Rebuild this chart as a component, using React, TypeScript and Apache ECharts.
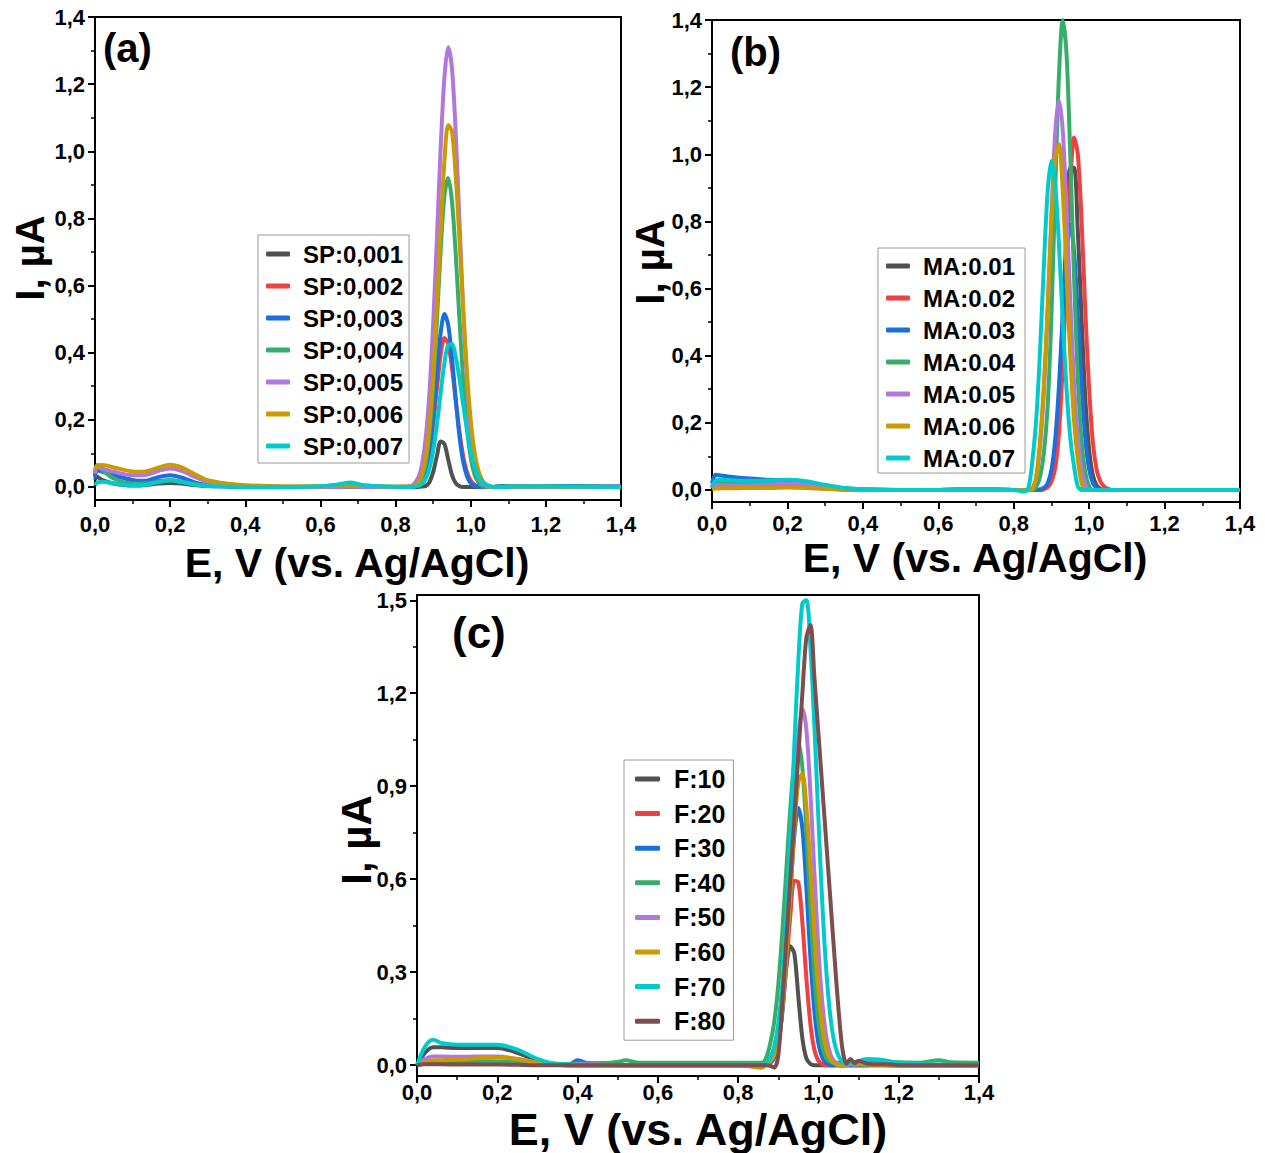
import React, { useEffect, useRef } from "react";
import * as echarts from "echarts";

// ---------- colours (Origin default palette) ----------
const COLORS = ["#515151", "#F14040", "#1A6FDF", "#37AD6B", "#B177DE", "#CC9900", "#00CBCC", "#7D4E4E"];

// ---------- tick labels ----------
const yMajorAB = [0, 0.2, 0.4, 0.6, 0.8, 1.0, 1.2, 1.4];
const yMinorAB = [0.1, 0.3, 0.5, 0.7, 0.9, 1.1, 1.3];
const yMajorC = [0, 0.3, 0.6, 0.9, 1.2, 1.5];
const yMinorC = [0.15, 0.45, 0.75, 1.05, 1.35];

// ---------- panel (a) ----------
const namesA = ["SP:0,001", "SP:0,002", "SP:0,003", "SP:0,004", "SP:0,005", "SP:0,006", "SP:0,007"];
const xA = [0, 0.005, 0.02, 0.05, 0.1, 0.13, 0.17, 0.2, 0.23, 0.27, 0.3, 0.35, 0.4, 0.5, 0.6, 0.65, 0.68, 0.71, 0.78, 0.84,
  0.86, 0.87, 0.88, 0.89, 0.9, 0.91, 0.92, 0.93, 0.94, 0.95, 0.96, 0.97, 0.98, 0.99, 1.0, 1.01, 1.02, 1.03, 1.04, 1.05, 1.06,
  1.08, 1.15, 1.25, 1.4];
const a_sp001 = [0.02, 0.03, 0.02, 0.01, 0.004, 0.005, 0.01, 0.012, 0.01, 0.005, 0.003, 0.002, 0.001, 0, 0, 0, 0.002, 0.001, 0, 0,
  0, 0.001, 0.003, 0.014, 0.044, 0.092, 0.135, 0.128, 0.082, 0.036, 0.011, 0.002, 0, 0, 0, 0, 0, 0, 0, 0, 0,
  0, 0.001, 0, 0];
const a_sp002 = [0.03, 0.06, 0.05, 0.035, 0.02, 0.015, 0.018, 0.02, 0.015, 0.008, 0.004, 0.002, 0, 0, 0, 0, 0.001, 0, 0, 0,
  0.005, 0.016, 0.042, 0.096, 0.183, 0.292, 0.393, 0.444, 0.426, 0.356, 0.258, 0.165, 0.091, 0.044, 0.019, 0.007, 0.002, 0, 0, 0, 0,
  0.002, 0.003, 0.002, 0.001];
const a_sp003 = [0.03, 0.05, 0.045, 0.035, 0.02, 0.018, 0.03, 0.035, 0.028, 0.012, 0.006, 0.002, 0, 0, 0, 0, 0.001, 0, 0, 0,
  0.004, 0.015, 0.044, 0.105, 0.208, 0.339, 0.459, 0.515, 0.483, 0.386, 0.263, 0.152, 0.075, 0.032, 0.011, 0.003, 0, 0, 0, 0, 0,
  0.003, 0.002, 0.003, 0.001];
const a_sp004 = [0.04, 0.065, 0.05, 0.025, 0.01, 0.01, 0.015, 0.02, 0.015, 0.008, 0.004, 0.002, 0, 0, 0, 0, 0.001, 0, 0, 0,
  0.009, 0.027, 0.07, 0.157, 0.299, 0.494, 0.705, 0.867, 0.92, 0.852, 0.695, 0.499, 0.317, 0.175, 0.086, 0.037, 0.014, 0.004, 0, 0, 0,
  0.001, 0.002, 0.001, 0];
const a_sp005 = [0.04, 0.06, 0.055, 0.045, 0.035, 0.035, 0.048, 0.055, 0.048, 0.028, 0.015, 0.006, 0.002, 0, 0, 0, 0.001, 0, 0, 0.003,
  0.027, 0.065, 0.144, 0.279, 0.485, 0.74, 1.009, 1.22, 1.31, 1.248, 1.057, 0.795, 0.53, 0.315, 0.166, 0.077, 0.032, 0.012, 0.004, 0, 0,
  0, 0.001, 0, 0];
const a_sp006 = [0.05, 0.062, 0.065, 0.058, 0.046, 0.045, 0.058, 0.066, 0.058, 0.035, 0.02, 0.01, 0.005, 0.002, 0.002, 0.004, 0.006, 0.004, 0.001, 0.001,
  0.013, 0.036, 0.086, 0.181, 0.33, 0.538, 0.771, 0.97, 1.078, 1.06, 0.929, 0.739, 0.53, 0.341, 0.199, 0.105, 0.05, 0.021, 0.008, 0.002, 0,
  0, 0.001, 0, 0];
const a_sp007 = [0.005, 0.012, 0.015, 0.01, 0.005, 0.006, 0.015, 0.02, 0.015, 0.006, 0.003, 0.001, 0, 0, 0.002, 0.008, 0.013, 0.006, 0.001, 0,
  0.003, 0.009, 0.024, 0.054, 0.107, 0.185, 0.28, 0.369, 0.423, 0.425, 0.388, 0.323, 0.245, 0.17, 0.107, 0.062, 0.033, 0.016, 0.007, 0.003, 0,
  0, 0.002, 0.001, 0];

// ---------- panel (b) ----------
const namesB = ["MA:0.01", "MA:0.02", "MA:0.03", "MA:0.04", "MA:0.05", "MA:0.06", "MA:0.07"];
const xB = [0, 0.01, 0.03, 0.06, 0.1, 0.15, 0.2, 0.25, 0.3, 0.35, 0.4, 0.5, 0.6, 0.7, 0.8,
  0.83, 0.84, 0.85, 0.86, 0.87, 0.88, 0.89, 0.9, 0.91, 0.92, 0.93, 0.94, 0.95, 0.96, 0.97, 0.98, 0.99, 1.0, 1.01, 1.02, 1.03, 1.04, 1.05, 1.06, 1.07,
  1.1, 1.2, 1.3, 1.4];
const b_ma001 = [0.003, 0.01, 0.01, 0.009, 0.009, 0.01, 0.01, 0.008, 0.004, 0.001, 0, 0, 0, 0.001, 0,
  0, 0, 0, 0, 0, 0.003, 0.013, 0.043, 0.12, 0.27, 0.51, 0.77, 0.96, 0.96, 0.77, 0.51, 0.27, 0.12, 0.043, 0.013, 0.003, 0, 0, 0, 0,
  0, 0, 0, 0];
const b_ma002 = [0.005, 0.02, 0.018, 0.015, 0.013, 0.012, 0.012, 0.009, 0.005, 0.002, 0, 0, 0, 0.001, 0,
  0, 0, 0, 0, 0, 0.003, 0.008, 0.025, 0.065, 0.17, 0.37, 0.64, 0.91, 1.05, 1.0, 0.8, 0.53, 0.3, 0.14, 0.06, 0.025, 0.01, 0.003, 0, 0,
  0, 0, 0, 0];
const b_ma003 = [0.02, 0.045, 0.042, 0.038, 0.034, 0.03, 0.028, 0.022, 0.012, 0.005, 0.002, 0, 0, 0.002, 0,
  0, 0, 0, 0, 0.002, 0.006, 0.02, 0.06, 0.15, 0.31, 0.52, 0.71, 0.79, 0.71, 0.52, 0.31, 0.15, 0.06, 0.02, 0.006, 0, 0, 0, 0, 0,
  0, 0, 0, 0];
const b_ma004 = [0.01, 0.025, 0.022, 0.02, 0.018, 0.018, 0.017, 0.012, 0.006, 0.002, 0, 0, 0, 0.001, 0,
  0, 0, 0, 0.01, 0.04, 0.11, 0.25, 0.52, 0.89, 1.235, 1.4, 1.3, 0.995, 0.633, 0.33, 0.145, 0.05, 0.01, 0, 0, 0, 0, 0, 0, 0,
  0, 0, 0, 0];
const b_ma005 = [0.005, 0.015, 0.014, 0.013, 0.014, 0.016, 0.018, 0.015, 0.008, 0.003, 0.001, 0, 0, 0.002, 0,
  0, 0, 0.003, 0.04, 0.13, 0.29, 0.53, 0.82, 1.064, 1.16, 1.07, 0.84, 0.565, 0.32, 0.157, 0.06, 0.015, 0, 0, 0, 0, 0, 0, 0, 0,
  0, 0, 0, 0];
const b_ma006 = [0.002, 0.004, 0.005, 0.005, 0.006, 0.006, 0.007, 0.006, 0.003, 0.001, 0, 0, 0, 0, 0,
  0, 0, 0.005, 0.04, 0.15, 0.315, 0.547, 0.8, 0.987, 1.03, 0.89, 0.65, 0.4, 0.206, 0.09, 0.02, 0, 0, 0, 0, 0, 0, 0, 0, 0,
  0, 0, 0, 0];
const b_ma007 = [0.01, 0.028, 0.03, 0.028, 0.027, 0.028, 0.03, 0.026, 0.015, 0.006, 0.002, 0, 0, 0.001, 0,
  -0.005, 0.01, 0.092, 0.215, 0.42, 0.67, 0.89, 0.98, 0.91, 0.73, 0.505, 0.3, 0.155, 0.07, 0.01, 0, 0, 0, 0, 0, 0, 0, 0, 0, 0,
  0, 0, 0, 0];

// ---------- panel (c) ----------
const namesC = ["F:10", "F:20", "F:30", "F:40", "F:50", "F:60", "F:70", "F:80"];
const xC = [0, 0.02, 0.04, 0.06, 0.1, 0.15, 0.2, 0.25, 0.3, 0.33, 0.38, 0.4, 0.42, 0.46, 0.5, 0.52, 0.55, 0.6, 0.7, 0.8,
  0.86, 0.87, 0.88, 0.89, 0.9, 0.91, 0.92, 0.93, 0.94, 0.95, 0.96, 0.97, 0.98, 0.99, 1.0, 1.01, 1.02, 1.03, 1.04, 1.05, 1.06, 1.07, 1.08, 1.09, 1.1,
  1.12, 1.15, 1.18, 1.2, 1.25, 1.3, 1.33, 1.4];
const c_f10 = [0, 0.04, 0.058, 0.058, 0.055, 0.055, 0.055, 0.04, 0.015, 0.005, 0, 0, 0, 0, 0, 0, 0, 0, 0, 0,
  0, 0.006, 0.02, 0.053, 0.118, 0.215, 0.319, 0.384, 0.36, 0.22, 0.087, 0.022, 0.004, 0, 0, 0, 0, 0, 0, 0, 0, 0, 0, 0, 0,
  0, 0, 0, 0, 0, 0, 0, 0];
const c_f20 = [0.002, 0.008, 0.01, 0.01, 0.01, 0.01, 0.01, 0.007, 0.003, 0.001, 0, 0, 0, 0, 0, 0, 0, 0, 0, 0,
  0, 0.002, 0.008, 0.027, 0.075, 0.172, 0.318, 0.482, 0.595, 0.59, 0.46, 0.28, 0.132, 0.049, 0.014, 0.003, 0, 0, 0, 0, 0, 0, 0, 0, 0,
  0, 0, 0, 0, 0, 0, 0, 0];
const c_f30 = [0.002, 0.008, 0.01, 0.01, 0.01, 0.01, 0.01, 0.007, 0.004, 0.003, 0.003, 0.016, 0.008, 0.006, 0.003, 0, 0, 0, 0, 0,
  0, 0.002, 0.007, 0.025, 0.07, 0.17, 0.335, 0.547, 0.74, 0.83, 0.764, 0.572, 0.348, 0.173, 0.07, 0.023, 0.006, 0, 0, 0, 0, 0, 0, 0, 0,
  0, 0.002, 0, 0, 0, 0, 0, 0];
const c_f40 = [0.003, 0.008, 0.01, 0.01, 0.01, 0.012, 0.012, 0.01, 0.006, 0.004, 0.004, 0.005, 0.005, 0.006, 0.01, 0.016, 0.008, 0.008, 0.008, 0.008,
  0.008, 0.025, 0.07, 0.14, 0.26, 0.43, 0.63, 0.83, 0.98, 1.04, 0.96, 0.755, 0.506, 0.289, 0.14, 0.058, 0.021, 0.01, 0.008, 0.008, 0.008, 0.008, 0.009, 0.01, 0.012,
  0.014, 0.016, 0.01, 0.009, 0.008, 0.016, 0.009, 0.008];
const c_f50 = [0, 0.02, 0.028, 0.028, 0.027, 0.028, 0.028, 0.02, 0.008, 0.003, 0, 0.002, 0.003, 0.001, 0, 0, 0, 0, 0, 0,
  0, 0.004, 0.013, 0.036, 0.09, 0.193, 0.363, 0.594, 0.849, 1.06, 1.15, 1.083, 0.88, 0.618, 0.374, 0.196, 0.088, 0.035, 0.012, 0.003, 0, 0, 0.003, 0.002, 0.004,
  0.003, 0.002, 0, 0, 0, 0, 0, 0];
const c_f60 = [0, 0.01, 0.015, 0.016, 0.018, 0.022, 0.025, 0.02, 0.008, 0.003, 0, 0, 0, 0, 0, 0, 0, 0, 0, 0,
  -0.008, 0.003, 0.012, 0.034, 0.086, 0.184, 0.345, 0.55, 0.763, 0.911, 0.94, 0.834, 0.639, 0.422, 0.242, 0.118, 0.05, 0.018, 0.006, 0, 0, 0.002, 0.004, 0.002, 0.003,
  0.002, 0.001, 0, 0, 0, 0, 0, 0];
const c_f70 = [0, 0.06, 0.082, 0.072, 0.066, 0.066, 0.066, 0.05, 0.02, 0.008, 0.002, 0, 0, 0, 0, 0, 0, 0, 0, 0,
  0.001, 0.009, 0.025, 0.061, 0.134, 0.263, 0.467, 0.733, 1.034, 1.306, 1.49, 1.5, 1.35, 1.093, 0.793, 0.512, 0.298, 0.155, 0.071, 0.03, 0.011, 0.003, 0.01, 0.005, 0.012,
  0.02, 0.018, 0.012, 0.008, 0.004, 0.002, 0.001, 0];
const c_f80 = [0, 0.003, 0.003, 0.003, 0.002, 0.002, 0.002, 0.001, 0, 0, 0, 0, 0, 0, 0, 0, 0, 0, 0, 0,
  0, 0, -0.002, -0.008, 0.03, 0.2, 0.4, 0.6, 0.8, 1.0, 1.2, 1.38, 1.42, 1.25, 1.07, 0.89, 0.71, 0.53, 0.35, 0.18, 0.05, 0.005, 0.02, 0.006, 0.014,
  0.005, 0.003, 0.002, 0, 0, 0, 0, 0];

const seriesA = [a_sp001, a_sp002, a_sp003, a_sp004, a_sp005, a_sp006, a_sp007];
const seriesB = [b_ma001, b_ma002, b_ma003, b_ma004, b_ma005, b_ma006, b_ma007];
const seriesC = [c_f10, c_f20, c_f30, c_f40, c_f50, c_f60, c_f70, c_f80];

const FONT = "Liberation Sans";
const fmt = (v: number) => (Math.round(v * 100) / 100).toFixed(1).replace(".", ",");

export default function App() {
  const ref = useRef<HTMLDivElement>(null);

  useEffect(() => {
    document.body.style.margin = "0";
    if (!ref.current) return;
    const chart = echarts.init(ref.current, undefined, { renderer: "svg" });

    const panels = [
      { grid: { left: 95, top: 17, width: 526, height: 483 }, yMin: -0.039, yMax: 1.4, major: yMajorAB, minor: yMinorAB, xs: xA, ys: seriesA, names: namesA, xm: 13 },
      { grid: { left: 712, top: 20, width: 528, height: 482 }, yMin: -0.036, yMax: 1.4, major: yMajorAB, minor: yMinorAB, xs: xB, ys: seriesB, names: namesB, xm: 10 },
      { grid: { left: 417, top: 595, width: 562, height: 481 }, yMin: -0.035, yMax: 1.517, major: yMajorC, minor: yMinorC, xs: xC, ys: seriesC, names: namesC, xm: 5 },
    ];

    const labelStyle = { color: "#000", fontSize: 22, fontWeight: "bold" as const, fontFamily: FONT };

    const grid = panels.map((p) => ({ ...p.grid, show: true, borderColor: "#000", borderWidth: 2, backgroundColor: "transparent" }));
    const xAxis = panels.map((p, i) => ({
      gridIndex: i, type: "value", min: 0, max: 1.4, interval: 0.2,
      axisLine: { show: false, onZero: false },
      axisTick: { show: true, length: 7, lineStyle: { color: "#000", width: 2 } },
      minorTick: { show: true, splitNumber: 2, length: 4, lineStyle: { color: "#000", width: 1.5 } },
      splitLine: { show: false }, minorSplitLine: { show: false },
      axisLabel: { ...labelStyle, formatter: fmt, margin: p.xm, lineHeight: 22 },
    }));
    const yAxis: any[] = [];
    panels.forEach((p, i) => {
      yAxis.push({
        gridIndex: i, type: "value", min: p.yMin, max: p.yMax, position: "left",
        axisLine: { show: false, onZero: false },
        axisTick: { show: true, length: 7, customValues: p.major, lineStyle: { color: "#000", width: 2 } },
        splitLine: { show: false },
        axisLabel: { ...labelStyle, customValues: p.major, formatter: fmt, margin: 10 },
      });
      yAxis.push({
        gridIndex: i, type: "value", min: p.yMin, max: p.yMax, position: "left", offset: 0,
        axisLine: { show: false, onZero: false },
        axisTick: { show: true, length: 4, customValues: p.minor, lineStyle: { color: "#000", width: 1.5 } },
        splitLine: { show: false },
        axisLabel: { show: false },
      });
    });

    const series: any[] = [];
    panels.forEach((p, i) => {
      p.ys.forEach((ys, k) => {
        series.push({
          name: p.names[k], type: "line", xAxisIndex: i, yAxisIndex: 2 * i,
          data: p.xs.map((x, j) => [x, ys[j]]),
          showSymbol: false, symbol: "none", smooth: 0.3,
          lineStyle: { color: COLORS[k], width: 4 }, itemStyle: { color: COLORS[k] },
          color: COLORS[k], z: 2 + k,
        });
      });
    });

    const legendBase = (names: string[], left: number, top: number, pad: number[], size: number, lh: number, gap: number, iw: number, tp: number) => ({
      data: names, left, top, orient: "vertical", icon: "roundRect", itemWidth: iw, itemHeight: 5, itemGap: gap,
      padding: pad, borderColor: "#9a9a9a", borderWidth: 1, backgroundColor: "#fff", selectedMode: false,
      itemStyle: { borderWidth: 0 },
      textStyle: { color: "#000", fontSize: size, fontWeight: "bold", fontFamily: FONT, lineHeight: lh, padding: [0, 0, 0, tp] },
    });

    const t = (text: string, x: number, y: number, size: number, rot = 0, align = "center", lh?: number) => ({
      type: "text", x, y, rotation: rot, z: 100,
      style: { text, font: `bold ${size}px "${FONT}"`, fill: "#000", align, verticalAlign: "middle", textAlign: align, textVerticalAlign: "middle", lineHeight: lh },
    });

    chart.setOption({
      animation: false,
      backgroundColor: "#fff",
      grid, xAxis, yAxis, series,
      legend: [
        legendBase(namesA, 258, 235, [7, 6, 5, 8], 24, 24, 8, 24, 8),
        legendBase(namesB, 878, 248, [6, 10, 3, 8], 24, 24, 8, 24, 8),
        legendBase(namesC, 624, 760, [6, 8, 6, 11], 25, 26, 8.6, 25, 9),
      ],
      graphic: [
        t("(a)", 103, 48, 40, 0, "left"),
        t("(b)", 730, 52, 40, 0, "left"),
        t("(c)", 452, 632, 44, 0, "left"),
        t("I, µA", 30, 258, 40, Math.PI / 2),
        t("I, µA", 650, 262, 40, Math.PI / 2),
        t("I, µA", 356, 840, 42, Math.PI / 2),
        t("E, V (vs. Ag/AgCl)", 357, 563, 41, 0, "center", 36),
        t("E, V (vs. Ag/AgCl)", 975, 558, 41, 0, "center", 36),
        t("E, V (vs. Ag/AgCl)", 698, 1129, 45, 0, "center", 36),
      ],
    });

    return () => chart.dispose();
  }, []);

  return <div ref={ref} style={{ width: 1265, height: 1153 }} />;
}
